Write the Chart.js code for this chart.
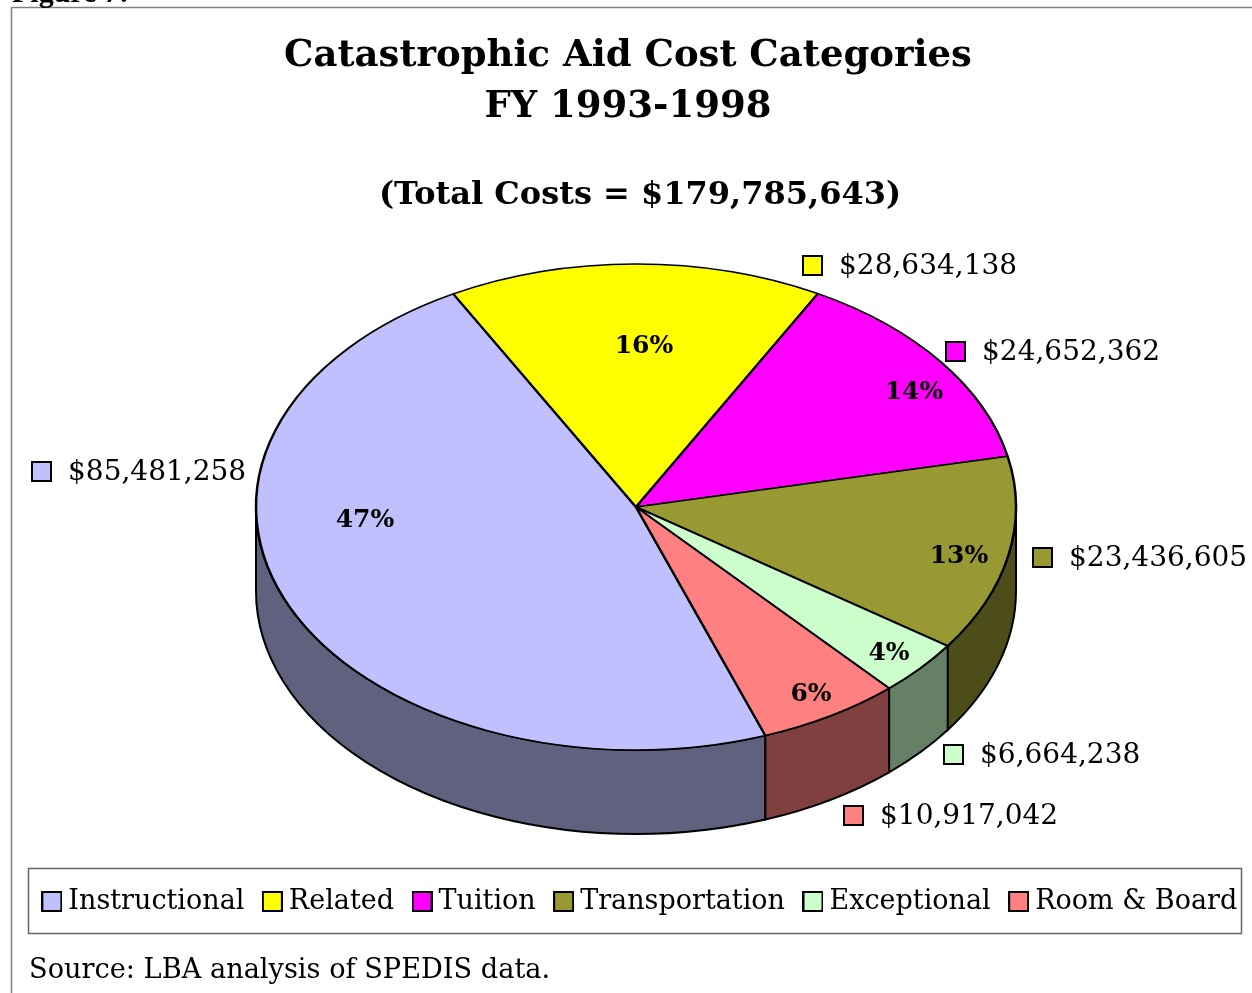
<!DOCTYPE html>
<html lang="en">

<head>
    <meta charset="UTF-8">
    <title>Catastrophic Aid Cost Categories</title>
    <script src="https://cdn.jsdelivr.net/npm/chart.js"></script>
    <style>
        body {
            margin: 0;
            padding: 0;
            background-color: #fff;
            overflow: hidden;
        }

        canvas {
            display: block;
        }
    </style>
</head>

<body>
    <canvas id="costPie" width="1252" height="993"></canvas>

    <script>
        var categories = ['Instructional', 'Related', 'Tuition', 'Transportation', 'Exceptional', 'Room & Board'];
        var costs = [85481258, 28634138, 24652362, 23436605, 6664238, 10917042];
        var percentLabels = ['47%', '16%', '14%', '13%', '4%', '6%'];

        var topColors = ['#C0C0FF', '#FFFF00', '#FF00FF', '#999933', '#CCFFCC', '#FF8080'];
        var sideColors = ['#60607F', '#808000', '#800080', '#4D4D1A', '#668066', '#804040'];

        var titleLines = ['Catastrophic Aid Cost Categories', 'FY 1993-1998'];
        var totalLine = '(Total Costs = $179,785,643)';
        var figureLine = 'Figure 7:';
        var sourceLine = 'Source: LBA analysis of SPEDIS data.';

        // where the labels sit on the page
        var percentAt = [[365, 520], [644, 346], [914, 392], [959, 556], [889, 653], [811, 694]];
        var keyAt = [[31, 461], [802, 255], [945, 341], [1032, 547], [943, 744], [843, 805]];

        var SERIF = '"DejaVu Serif", serif';

        // pie is flattened to an ellipse, the wall hangs below it
        var PIE_X = 636, PIE_Y = 507, PIE_RX = 380, PIE_RY = 243, PIE_DEPTH = 84;

        function swatch(color) {
            var c = document.createElement('canvas');
            c.width = 21;
            c.height = 21;
            var g = c.getContext('2d');
            g.fillStyle = color;
            g.fillRect(1, 1, 19, 19);
            g.strokeStyle = '#000';
            g.lineWidth = 2;
            g.strokeRect(1, 1, 19, 19);
            return c;
        }

        var swatches = topColors.map(swatch);

        function drawWall(ctx, arc, color) {
            // only the part of the rim facing the viewer (0..PI) gets a wall
            var twoPi = Math.PI * 2;
            var a = arc.startAngle % twoPi;
            if (a < 0) a += twoPi;
            var b = a + (arc.endAngle - arc.startAngle);
            [0, twoPi].forEach(function (shift) {
                var from = Math.max(a, shift);
                var to = Math.min(b, shift + Math.PI);
                if (to <= from) return;
                ctx.beginPath();
                ctx.ellipse(PIE_X, PIE_Y, PIE_RX, PIE_RY, 0, from, to);
                ctx.ellipse(PIE_X, PIE_Y + PIE_DEPTH, PIE_RX, PIE_RY, 0, to, from, true);
                ctx.closePath();
                ctx.fillStyle = color;
                ctx.fill();
                ctx.strokeStyle = '#000';
                ctx.lineWidth = 2;
                ctx.stroke();
            });
        }

        var piePlugin = {
            id: 'flatPie',
            afterLayout: function (chart) {
                // legend and total line are not centred on the page
                chart.boxes.forEach(function (box) {
                    var shift = 0;
                    if (box === chart.legend) shift = 15;
                    if (box.options && box.options.text === totalLine) shift = 12;
                    box.left += shift;
                    box.right += shift;
                });
            },
            beforeDraw: function (chart) {
                var ctx = chart.ctx;
                ctx.save();
                ctx.fillStyle = '#fff';
                ctx.fillRect(0, 0, chart.width, chart.height);
                ctx.strokeStyle = '#808080';
                ctx.lineWidth = 1.5;
                ctx.beginPath();
                ctx.moveTo(11.5, chart.height);
                ctx.lineTo(11.5, 7.5);
                ctx.lineTo(chart.width, 7.5);
                ctx.stroke();
                ctx.strokeStyle = '#666';
                ctx.strokeRect(28.5, 868.5, 1213, 65);
                ctx.restore();
            },
            beforeDatasetsDraw: function (chart) {
                var ctx = chart.ctx;
                var arcs = chart.getDatasetMeta(0).data;
                arcs.forEach(function (arc, i) {
                    drawWall(ctx, arc, sideColors[i]);
                });
                ctx.save();
                ctx.translate(PIE_X, PIE_Y);
                ctx.scale(1, PIE_RY / PIE_RX);
                ctx.translate(-arcs[0].x, -arcs[0].y);
            },
            afterDatasetsDraw: function (chart) {
                var ctx = chart.ctx;
                ctx.restore();
                ctx.save();
                ctx.fillStyle = '#000';
                ctx.textBaseline = 'middle';

                ctx.font = 'bold 25px ' + SERIF;
                ctx.textAlign = 'center';
                percentLabels.forEach(function (text, i) {
                    ctx.fillText(text, percentAt[i][0], percentAt[i][1]);
                });

                ctx.font = '28px ' + SERIF;
                ctx.textAlign = 'left';
                costs.forEach(function (value, i) {
                    var x = keyAt[i][0], y = keyAt[i][1];
                    ctx.drawImage(swatches[i], x, y);
                    ctx.fillText('$' + value.toLocaleString('en-US'), x + 37, y + 12);
                });

                ctx.textBaseline = 'alphabetic';
                ctx.font = '27.2px ' + SERIF;
                ctx.fillText(sourceLine, 29, 978);
                ctx.font = 'bold 30px "Liberation Serif", serif';
                ctx.fillText(figureLine, 12, 2);
                ctx.restore();
            }
        };

        new Chart(document.getElementById('costPie').getContext('2d'), {
            type: 'pie',
            data: {
                labels: categories,
                datasets: [{
                    data: costs,
                    backgroundColor: topColors,
                    borderColor: '#000',
                    borderWidth: 2.5,
                    radius: PIE_RX,
                    clip: false
                }]
            },
            options: {
                responsive: false,
                animation: false,
                rotation: 160.1,
                layout: {
                    padding: { left: 4, top: 30, bottom: 68 }
                },
                plugins: {
                    tooltip: { enabled: false },
                    title: {
                        display: true,
                        text: titleLines,
                        color: '#000',
                        font: { family: SERIF, size: 37, weight: 'bold', lineHeight: 1.4 },
                        padding: { top: 0, bottom: 43 }
                    },
                    subtitle: {
                        display: true,
                        text: totalLine,
                        color: '#000',
                        font: { family: SERIF, size: 32, weight: 'bold', lineHeight: 1.2 },
                        padding: 0
                    },
                    legend: {
                        position: 'bottom',
                        labels: {
                            color: '#000',
                            font: { family: SERIF, size: 27 },
                            usePointStyle: true,
                            boxWidth: 6,
                            boxHeight: 10,
                            padding: 25,
                            generateLabels: function () {
                                return categories.map(function (name, i) {
                                    return { text: name, pointStyle: swatches[i], index: i, lineWidth: 0 };
                                });
                            }
                        }
                    }
                }
            },
            plugins: [piePlugin]
        });
    </script>
</body>

</html>
